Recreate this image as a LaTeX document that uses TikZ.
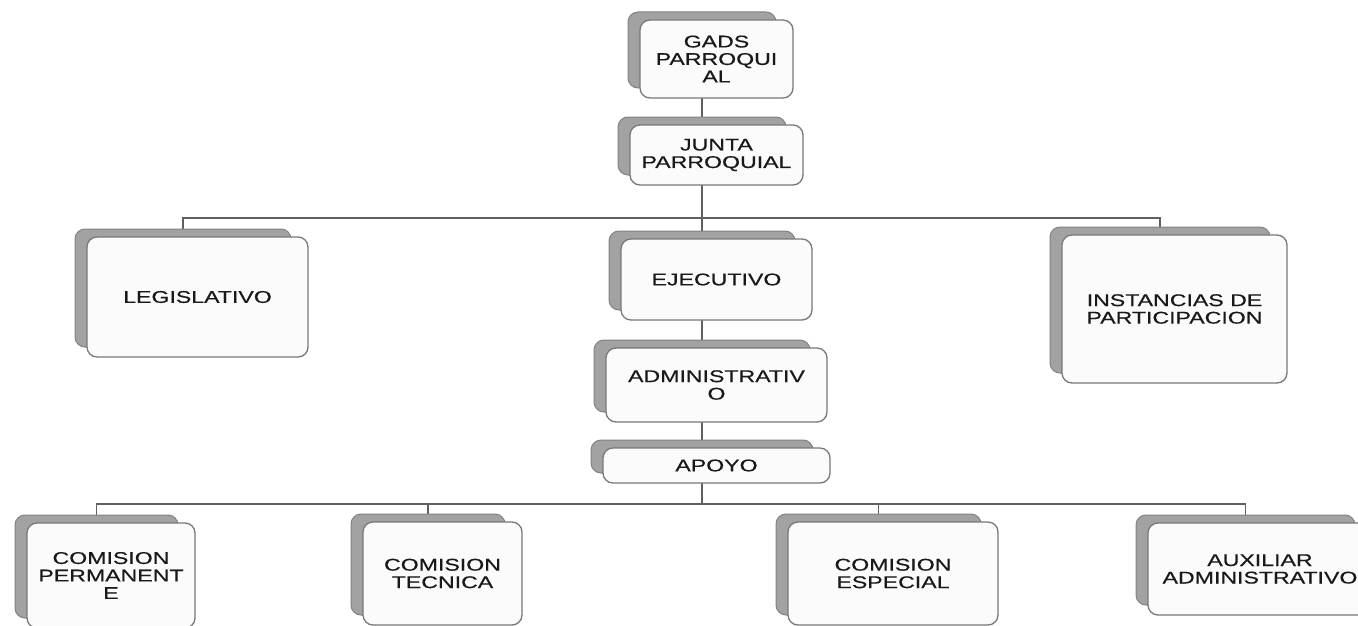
\documentclass[tikz,border=0pt]{standalone}
\usepackage{fontspec}
\setmainfont{Liberation Sans}[FakeStretch=1.36,FakeBold=0.4]
\pgfdeclarelayer{bg}
\pgfsetlayers{bg,main}
\definecolor{backcol}{RGB}{162,162,162}
\definecolor{backedge}{RGB}{130,130,130}
\definecolor{frontcol}{RGB}{251,251,251}
\definecolor{frontedge}{RGB}{120,120,120}
\definecolor{linecol}{RGB}{95,95,95}
\definecolor{txtcol}{RGB}{25,25,25}
\tikzset{
  backcard/.style={draw=backedge, fill=backcol, line width=1pt, rounded corners=10pt, inner sep=0pt, outer sep=0pt},
  frontcard/.style={draw=frontedge, fill=frontcol, line width=1.3pt, rounded corners=10pt, inner sep=0pt, outer sep=0pt,
    align=center, text=txtcol, font=\fontsize{17}{17.5}\selectfont},
  conn/.style={draw=linecol, line width=1.4pt}
}
\newcommand\card[6]{%
  \node[backcard, minimum width={(#4-#2-5)*1pt}, minimum height={(#5-#3-2)*1pt}] (#1) at ({(#2+#4)/2-14.5},{(#3+#5)/2-9}) {};
  \node[frontcard, minimum width={(#4-#2)*1pt}, minimum height={(#5-#3)*1pt}] (#1f) at ({(#2+#4)/2},{(#3+#5)/2}) {#6};
}
\begin{document}
\begin{tikzpicture}[x=1pt,y=-1pt]
\useasboundingbox (0,0) rectangle (1358,626);
\begin{pgfonlayer}{bg}
\fill[white] (0,0) rectangle (1358,626);
\end{pgfonlayer}
\clip (0,0) rectangle (1358,626);
\card{gads}{640}{20}{793}{98}{GADS\\PARROQUI\\AL}
\card{junta}{630}{125}{803}{185}{JUNTA\\PARROQUIAL}
\card{legis}{87}{237}{308}{357}{LEGISLATIVO}
\card{ejec}{621}{239}{812}{320}{EJECUTIVO}
\card{inst}{1062}{235}{1287}{383}{INSTANCIAS DE\\PARTICIPACION}
\card{admin}{606}{348}{827}{422}{ADMINISTRATIV\\O}
\card{apoyo}{603}{448}{830}{483}{APOYO}
\card{perm}{27}{523}{195}{628}{COMISION\\PERMANENT\\E}
\card{tec}{363}{522}{522}{625}{COMISION\\TECNICA}
\card{esp}{788}{522}{998}{625}{COMISION\\ESPECIAL}
\card{aux}{1148}{523}{1372}{615}{AUXILIAR\\ADMINISTRATIVO}
\coordinate (busA) at (0,218);
\coordinate (busB) at (0,504);
\begin{pgfonlayer}{bg}
\draw[conn] (gads.south) -- (junta.north);
\draw[conn] (junta.south) -- (ejec.north);
\draw[conn] (junta.south |- busA) -| (legis.north);
\draw[conn] (junta.south |- busA) -| (inst.north);
\draw[conn] (ejec.south) -- (admin.north);
\draw[conn] (admin.south) -- (apoyo.north);
\draw[conn] (apoyo.south) -- (apoyo.south |- busB);
\draw[conn] (apoyo.south |- busB) -| (perm.north);
\draw[conn] (apoyo.south |- busB) -| (tec.north);
\draw[conn] (apoyo.south |- busB) -| (esp.north);
\draw[conn] (apoyo.south |- busB) -| (aux.north);
\end{pgfonlayer}
\end{tikzpicture}
\end{document}
